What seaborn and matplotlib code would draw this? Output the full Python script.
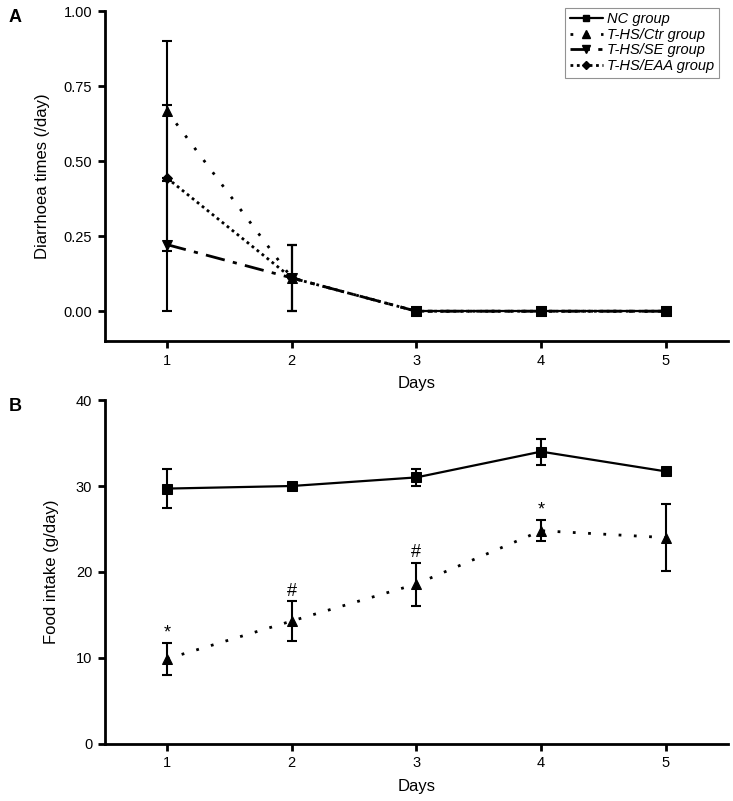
import numpy as np
import pandas as pd
import matplotlib
matplotlib.use("Agg")
import matplotlib.pyplot as plt
import seaborn as sns
from matplotlib.lines import Line2D

days = [1, 2, 3, 4, 5]
groups = ["NC group", "T-HS/Ctr group", "T-HS/SE group", "T-HS/EAA group"]

# panel A - diarrhoea times (/day)
diarr_mean = {
    "NC group": [np.nan, np.nan, 0.0, 0.0, 0.0],
    "T-HS/Ctr group": [0.667, 0.111, 0.0, 0.0, 0.0],
    "T-HS/SE group": [0.222, 0.111, 0.0, 0.0, 0.0],
    "T-HS/EAA group": [0.444, 0.111, 0.0, 0.0, 0.0],
}
diarr_sem = {
    "NC group": [0, 0, 0, 0, 0],
    "T-HS/Ctr group": [0.233, 0.111, 0, 0, 0],
    "T-HS/SE group": [0.222, 0.111, 0, 0, 0],
    "T-HS/EAA group": [0.243, 0.111, 0, 0, 0],
}

# panel B - food intake (g/day)
food_mean = {
    "NC group": [29.7, 30.0, 31.0, 34.0, 31.7],
    "T-HS/Ctr group": [9.9, 14.3, 18.6, 24.8, 24.0],
}
food_sem = {
    "NC group": [2.3, 0.4, 1.0, 1.5, 0.3],
    "T-HS/Ctr group": [1.9, 2.3, 2.5, 1.25, 3.9],
}
food_marks = ["*", "#", "#", "*", ""]

styles = {
    "NC group": dict(marker="s", ls="-", lw=1.6, ms=6.5),
    "T-HS/Ctr group": dict(marker="^", ls=(0, (1, 4.5)), lw=2.0, ms=7.5),
    "T-HS/SE group": dict(marker="v", ls=(0, (7, 3, 1.5, 3)), lw=2.0, ms=7.5),
    "T-HS/EAA group": dict(marker="D", ls=(0, (1, 1.3)), lw=2.0, ms=5.5),
}

sns.set_style("ticks")
plt.rcParams["font.family"] = ["Liberation Sans", "DejaVu Sans"]
plt.rcParams["text.color"] = "black"
plt.rcParams["axes.labelcolor"] = "black"
plt.rcParams["xtick.color"] = "black"
plt.rcParams["ytick.color"] = "black"
plt.rcParams["axes.edgecolor"] = "black"

fig = plt.figure(figsize=(7.33, 8.01), dpi=100)
ax1 = fig.add_axes([0.1428, 0.574, 0.8505, 0.412])
ax2 = fig.add_axes([0.1428, 0.0712, 0.8505, 0.4294])


def draw_group(ax, name, mean, sem):
    st = styles[name]
    df = pd.DataFrame({"day": days, "val": mean})
    sns.lineplot(data=df, x="day", y="val", ax=ax, color="black",
                 linestyle=st["ls"], linewidth=st["lw"], marker=st["marker"],
                 markersize=st["ms"], markeredgecolor="black", legend=False)
    ax.errorbar(days, mean, yerr=sem, fmt="none", ecolor="black",
                elinewidth=1.5, capsize=3.8, capthick=1.5, zorder=3)


for g in ["NC group", "T-HS/Ctr group", "T-HS/EAA group", "T-HS/SE group"]:
    draw_group(ax1, g, diarr_mean[g], diarr_sem[g])

for g in ["NC group", "T-HS/Ctr group"]:
    draw_group(ax2, g, food_mean[g], food_sem[g])

# significance marks above the Ctr error bars
for d, m, s, mk in zip(days, food_mean["T-HS/Ctr group"], food_sem["T-HS/Ctr group"], food_marks):
    if mk:
        ax2.annotate(mk, (d, m + s), xytext=(0, 1), textcoords="offset points",
                     ha="center", va="bottom", fontsize=13)

for ax in (ax1, ax2):
    ax.set_xlim(0.5, 5.5)
    ax.set_xticks(days)
    ax.set_xlabel("Days", fontsize=12, labelpad=6)
    for sp in ["top", "right"]:
        ax.spines[sp].set_visible(False)
    for sp in ["left", "bottom"]:
        ax.spines[sp].set_linewidth(2)
    ax.tick_params(width=2, length=5, labelsize=10.5, direction="out", pad=4)

ax1.set_ylim(-0.1, 1.0)
ax1.set_yticks([0, 0.25, 0.5, 0.75, 1.0])
ax1.set_yticklabels(["0.00", "0.25", "0.50", "0.75", "1.00"])
ax1.set_ylabel("Diarrhoea times (/day)", fontsize=12, labelpad=10)

ax2.set_ylim(0, 40)
ax2.set_yticks([0, 10, 20, 30, 40])
ax2.set_ylabel("Food intake (g/day)", fontsize=12, labelpad=12)

handles = [Line2D([], [], color="black", linestyle=styles[g]["ls"], linewidth=styles[g]["lw"],
                  marker=styles[g]["marker"], markersize=styles[g]["ms"] * 0.75)
           for g in groups]
leg = ax1.legend(handles, groups, loc="upper right", bbox_to_anchor=(0.99, 1.02),
                 prop={"style": "italic", "size": 10.5}, frameon=True, fancybox=False,
                 handlelength=2.3, handletextpad=0.3, labelspacing=0.12, borderpad=0.3,
                 borderaxespad=0.2)
leg.get_frame().set_edgecolor("#777777")
leg.get_frame().set_linewidth(0.8)

fig.text(0.012, 0.978, "A", fontsize=13, fontweight="bold", va="center")
fig.text(0.012, 0.492, "B", fontsize=13, fontweight="bold", va="center")

fig.savefig("out.png", dpi=100)
